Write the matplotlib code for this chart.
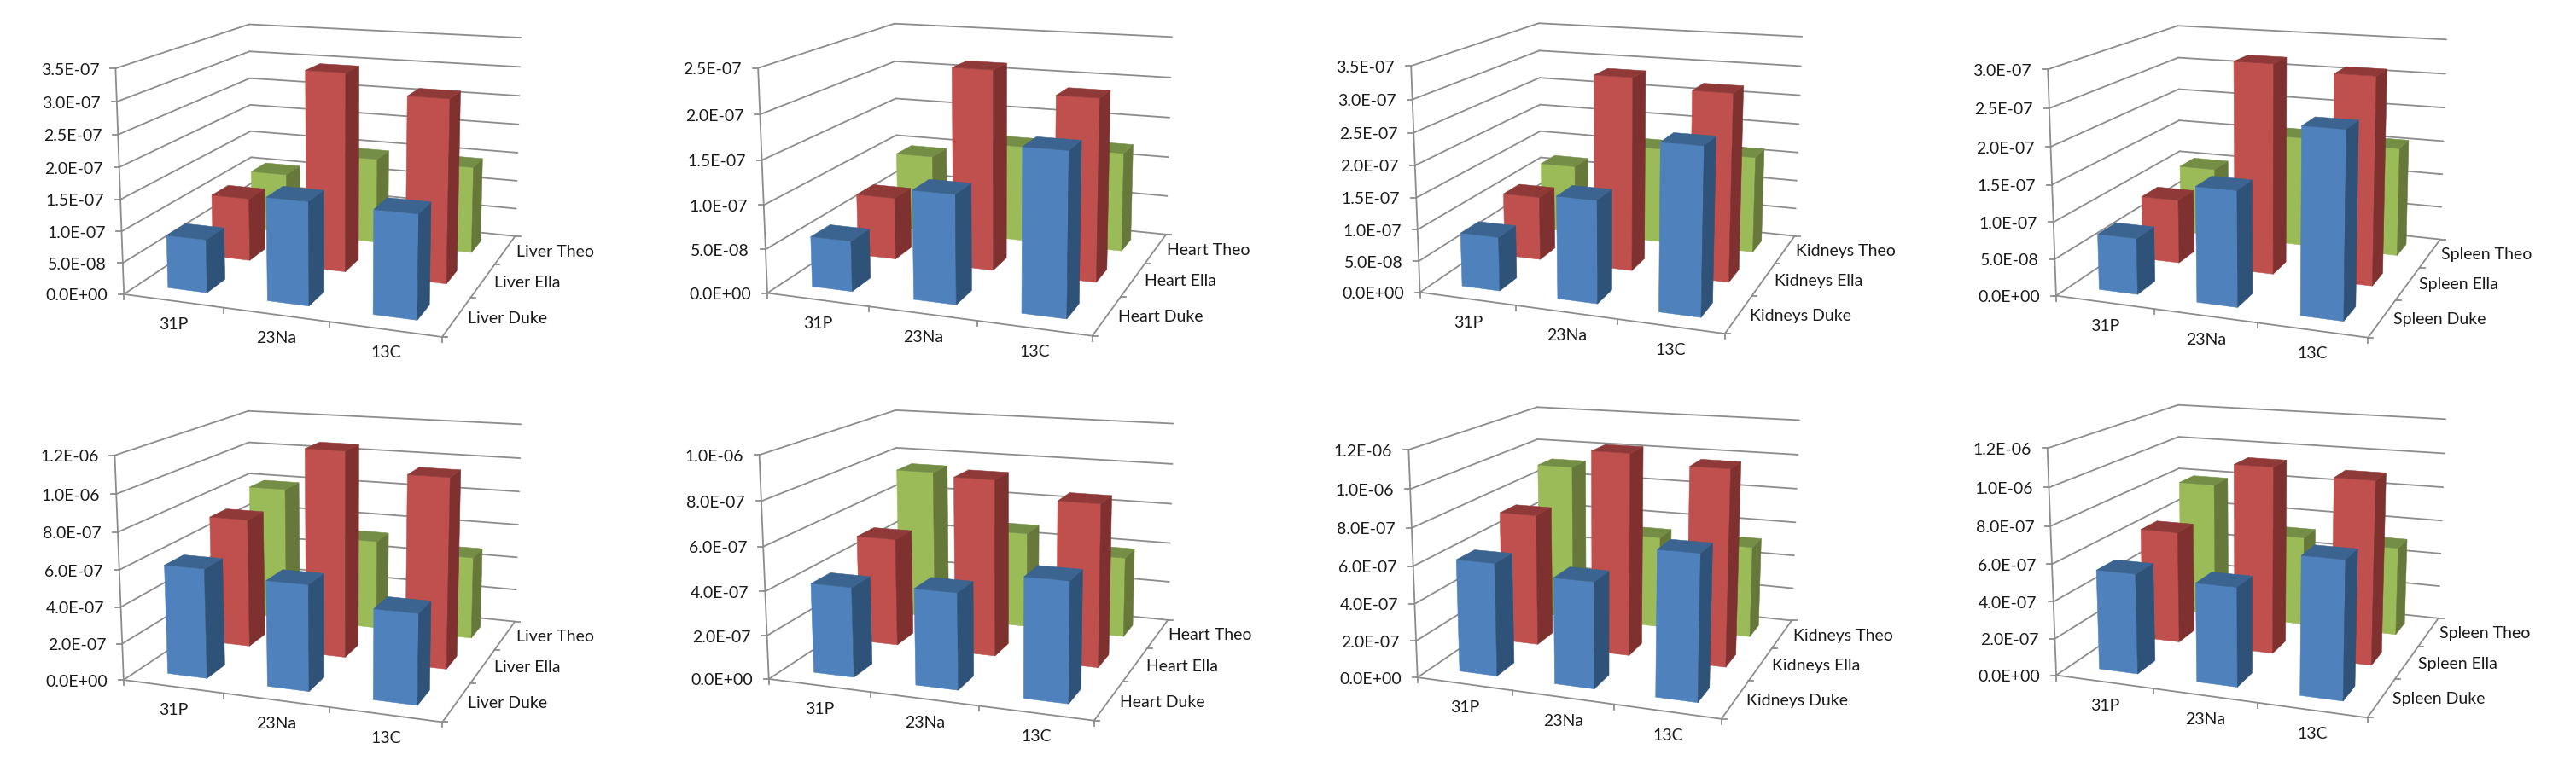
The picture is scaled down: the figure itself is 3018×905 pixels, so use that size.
import numpy as np
from matplotlib import pyplot as plt
from matplotlib.patches import Polygon

plt.rcParams['font.family'] = ['Lato', 'DejaVu Sans']

categories = ["31P", "23Na", "13C"]
people = ["Duke", "Ella", "Theo"]

# values per person, in category order
top_liver_duke = [0.845e-7, 1.61e-7, 1.59e-7]
top_liver_ella = [1.05e-7, 3.24e-7, 2.94e-7]
top_liver_theo = [1.05e-7, 1.47e-7, 1.47e-7]
top_heart_duke = [0.577e-7, 1.22e-7, 1.79e-7]
top_heart_ella = [0.744e-7, 2.34e-7, 2.10e-7]
top_heart_theo = [0.966e-7, 1.19e-7, 1.21e-7]
top_kidneys_duke = [0.857e-7, 1.60e-7, 2.55e-7]
top_kidneys_ella = [1.06e-7, 3.14e-7, 3.00e-7]
top_kidneys_theo = [1.19e-7, 1.64e-7, 1.63e-7]
top_spleen_duke = [0.763e-7, 1.54e-7, 2.43e-7]
top_spleen_ella = [0.91e-7, 2.92e-7, 2.84e-7]
top_spleen_theo = [1.02e-7, 1.61e-7, 1.57e-7]

bot_liver_duke = [5.98e-7, 5.68e-7, 4.77e-7]
bot_liver_ella = [7.35e-7, 11.57e-7, 10.5e-7]
bot_liver_theo = [7.99e-7, 5.27e-7, 4.79e-7]
bot_heart_duke = [4.11e-7, 4.34e-7, 5.31e-7]
bot_heart_ella = [5.15e-7, 8.30e-7, 7.54e-7]
bot_heart_theo = [7.48e-7, 4.73e-7, 3.92e-7]
bot_kidneys_duke = [6.08e-7, 5.64e-7, 7.58e-7]
bot_kidneys_ella = [7.41e-7, 11.19e-7, 10.7e-7]
bot_kidneys_theo = [9.14e-7, 5.36e-7, 5.26e-7]
bot_spleen_duke = [5.42e-7, 5.28e-7, 7.23e-7]
bot_spleen_ella = [6.33e-7, 10.38e-7, 10.05e-7]
bot_spleen_theo = [7.95e-7, 5.23e-7, 5.11e-7]

ticks_35 = [0, 0.5e-7, 1e-7, 1.5e-7, 2e-7, 2.5e-7, 3e-7, 3.5e-7]
ticks_25 = [0, 0.5e-7, 1e-7, 1.5e-7, 2e-7, 2.5e-7]
ticks_30 = [0, 0.5e-7, 1e-7, 1.5e-7, 2e-7, 2.5e-7, 3e-7]
ticks_12 = [0, 2e-7, 4e-7, 6e-7, 8e-7, 1e-6, 1.2e-6]
ticks_10 = [0, 2e-7, 4e-7, 6e-7, 8e-7, 1e-6]

# colours: front, side, top
colors = [("#4f81bd", "#2f5279", "#3c6491"),
          ("#c0504d", "#7f3130", "#8f3a38"),
          ("#9bbb59", "#66793a", "#748e45")]
grid_color = "#8c8c8c"
text_color = "#1a1a1a"

# box corners, in units of a 760 x 450 crop shown at 1560 x 1350
# floor front left, floor front right, floor back right, floor back left,
# top front left, top back left, top back right
panels = [
    ("Liver", ticks_35, (top_liver_duke, top_liver_ella, top_liver_theo), 0, 0,
     [(300, 1037), (1062, 1185), (1240, 830), (604, 733), (277, 238), (600, 87), (1253, 133)]),
    ("Heart", ticks_25, (top_heart_duke, top_heart_ella, top_heart_theo), 760, 0,
     [(287, 1030), (1066, 1183), (1245, 822), (597, 730), (262, 238), (592, 83), (1258, 131)]),
    ("Kidneys", ticks_35, (top_kidneys_duke, top_kidneys_ella, top_kidneys_theo), 1520, 0,
     [(297, 1030), (1027, 1173), (1197, 830), (585, 734), (272, 230), (582, 83), (1213, 129)]),
    ("Spleen", ticks_30, (top_spleen_duke, top_spleen_ella, top_spleen_theo), 2258, 0,
     [(312, 1042), (1058, 1188), (1235, 840), (607, 745), (289, 241), (603, 92), (1248, 140)]),
    ("Liver", ticks_12, (bot_liver_duke, bot_liver_ella, bot_liver_theo), 0, 450,
     [(300, 1042), (1062, 1192), (1240, 832), (602, 742), (275, 248), (598, 96), (1253, 144)]),
    ("Heart", ticks_10, (bot_heart_duke, bot_heart_ella, bot_heart_theo), 760, 450,
     [(291, 1036), (1070, 1188), (1250, 825), (600, 740), (265, 248), (595, 92), (1262, 142)]),
    ("Kidneys", ticks_12, (bot_kidneys_duke, bot_kidneys_ella, bot_kidneys_theo), 1520, 450,
     [(291, 1036), (1018, 1178), (1190, 832), (581, 736), (267, 228), (577, 84), (1207, 128)]),
    ("Spleen", ticks_12, (bot_spleen_duke, bot_spleen_ella, bot_spleen_theo), 2258, 450,
     [(312, 1028), (1057, 1173), (1230, 825), (608, 725), (288, 224), (604, 76), (1246, 124)]),
]
CUBE = [(0, 0, 0), (1, 0, 0), (1, 1, 0), (0, 1, 0), (0, 0, 1), (0, 1, 1), (1, 1, 1)]
ZX, ZY = 760 / 1560, 1 / 3
FONT_SIZE = 14


def fit_camera(corners, x0, y0):
    # least squares 3x4 projective matrix from the cube corners
    rows, rhs = [], []
    for (u, v, w), (zx, zy) in zip(CUBE, corners):
        px, py = x0 + zx * ZX, y0 + zy * ZY
        rows.append([u, v, w, 1, 0, 0, 0, 0, -px * u, -px * v, -px * w])
        rows.append([0, 0, 0, 0, u, v, w, 1, -py * u, -py * v, -py * w])
        rhs += [px, py]
    m = np.linalg.lstsq(np.array(rows), np.array(rhs), rcond=None)[0]
    return np.append(m, 1.0).reshape(3, 4)


def project(cam, u, v, w):
    x, y, s = cam @ np.array([u, v, w, 1.0])
    return x / s, y / s


def line(ax, cam, a, b, lw=1.3):
    pa, pb = project(cam, *a), project(cam, *b)
    ax.plot([pa[0], pb[0]], [pa[1], pb[1]], color=grid_color, lw=lw, solid_capstyle="round", zorder=1)


def draw_bar(ax, cam, i, j, height, zorder):
    u0, u1 = i / 3 + 0.1, i / 3 + 0.2333
    v0, v1 = j / 3 + 0.1, j / 3 + 0.2333
    front, side, top = colors[j]
    faces = [(front, [(u0, v0, 0), (u1, v0, 0), (u1, v0, height), (u0, v0, height)]),
             (side, [(u1, v0, 0), (u1, v1, 0), (u1, v1, height), (u1, v0, height)]),
             (top, [(u0, v0, height), (u1, v0, height), (u1, v1, height), (u0, v1, height)])]
    for c, pts in faces:
        ax.add_patch(Polygon([project(cam, *p) for p in pts], closed=True, facecolor=c, edgecolor=c,
                             lw=0.4, zorder=zorder))


def draw_panel(ax, organ, ticks, series, x0, y0, corners):
    cam = fit_camera(corners, x0, y0)
    vmax = ticks[-1]

    # walls
    for t in ticks:
        w = t / vmax
        line(ax, cam, (0, 0, w), (0, 1, w))
        line(ax, cam, (0, 1, w), (1, 1, w))
        px, py = project(cam, 0, 0, w)
        ax.plot([px - 6, px], [py, py], color=grid_color, lw=1.3, zorder=1)
        ax.text(px - 19, py + 2, f"{t:.1E}", ha="right", va="center", fontsize=FONT_SIZE, color=text_color)

    # floor edges and axis lines
    line(ax, cam, (0, 0, 0), (0, 0, 1))
    line(ax, cam, (0, 0, 0), (1, 0, 0))
    line(ax, cam, (1, 0, 0), (1, 1, 0))

    for k in range(4):
        px, py = project(cam, k / 3, 0, 0)
        ax.plot([px, px], [py, py + 6], color=grid_color, lw=1.3, zorder=1)
        px, py = project(cam, 1, k / 3, 0)
        ax.plot([px, px + 6], [py, py], color=grid_color, lw=1.3, zorder=1)

    for i, name in enumerate(categories):
        px, py = project(cam, (i + 0.5) / 3, 0, 0)
        ax.text(px + 1, py + 28, name, ha="center", va="center", fontsize=FONT_SIZE, color=text_color)
    for j, person in enumerate(people):
        px, py = project(cam, 1, (j + 0.5) / 3, 0)
        ax.text(px + 13, py + 2, f"{organ} {person}", ha="left", va="center", fontsize=FONT_SIZE, color=text_color)

    # back row first so the front bars cover it
    for j in [2, 1, 0]:
        for i in range(3):
            draw_bar(ax, cam, i, j, series[j][i] / vmax, zorder=5 + (2 - j))


if __name__ == "__main__":
    fig = plt.figure(figsize=(30.18, 9.05), dpi=100)
    ax = fig.add_axes([0, 0, 1, 1])
    ax.set_xlim(0, 3018)
    ax.set_ylim(905, 0)
    ax.axis("off")

    for organ, ticks, series, x0, y0, corners in panels:
        draw_panel(ax, organ, ticks, series, x0, y0, corners)

    fig.savefig("out.png", dpi=100)
